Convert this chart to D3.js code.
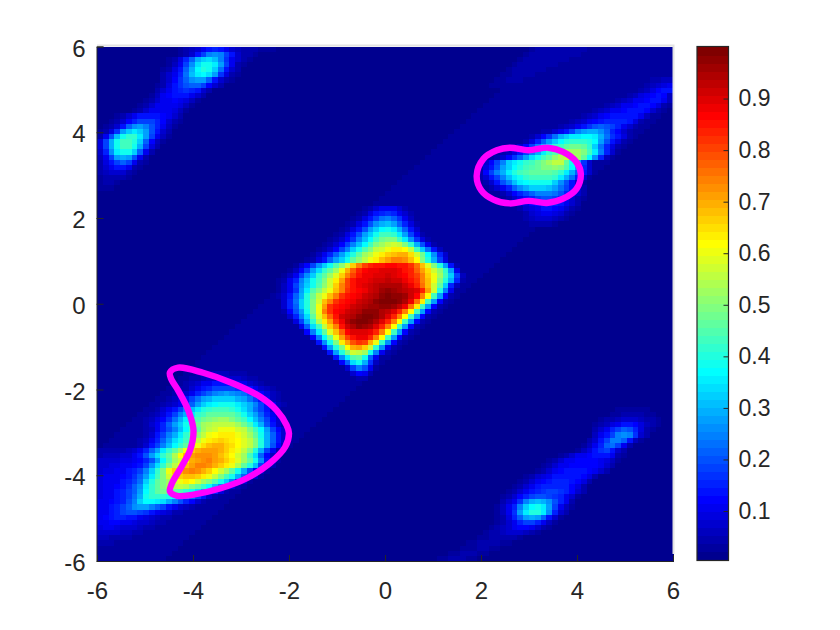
<!DOCTYPE html>
<html>
<head>
<meta charset="utf-8">
<script src="https://cdn.jsdelivr.net/npm/d3@7"></script>
<style>
body{margin:0;background:#fff;}
text{font-family:"Liberation Sans",Arial,sans-serif;}
</style>
</head>
<body>
<div id="chart"></div>
<script>
// heat values are percent of full scale
// each block: first row, first column of every row, then the row values
const xTicks=[-6,-4,-2,0,2,4,6];
const yTicks=[-6,-4,-2,0,2,4,6];
const barTicks=[0.1,0.2,0.3,0.4,0.5,0.6,0.7,0.8,0.9];
const barRange=[0.005,1];
const floorPct=0.5;
const bandPct=3;

// faint diagonal band, first and last column per row
const bandStart=[78,77,76,75,74,73,72,71,70,69,68,67,66,65,64,63,62,61,60,59,58,57,56,55,54,53,52,51,50,49,48,47,46,45,44,43,42,41,40,39,38,37,36,35,34,33,32,31,30,29,28,27,26,25,24,23,22,21,20,19,18,17,16,15,14,13,12,11,10,9,8,7,6,5,4,3,2,1,0,0,0,0,0,0,0,0,0,0,0,0,0,0,0,0,0,0,0,0,0,0];
const bandEnd=[99,99,99,99,99,99,99,99,99,99,99,99,98,97,96,95,94,93,92,91,90,89,88,87,86,85,84,83,82,81,80,79,78,77,76,75,74,73,72,71,70,69,68,67,66,65,64,63,62,61,60,59,58,57,56,55,54,53,52,51,50,49,48,47,46,45,44,43,42,41,40,39,38,37,36,35,34,33,32,31,30,29,28,27,26,25,24,23,22,21,20,19,18,17,16,15,14,13,12,11];

const centreFirstRow=31;
const centreStart=[46,45,44,43,42,41,40,39,38,37,36,34,33,32,31,31,31,31,31,31,32,32,33,34,35,36,37,38,39,40,42,43,43,44];
const centreValues=[
[3,5,8,10,11,10,7,4],
[3,5,9,13,16,17,15,11,7,4],
[3,5,9,14,19,23,24,22,17,11,6,3],
[3,5,9,14,20,26,30,31,28,22,15,9,4],
[3,5,9,14,20,27,33,37,38,35,29,21,13,7,3],
[3,5,9,14,20,27,33,39,43,44,41,35,27,18,10,5,2],
[3,5,8,12,17,24,31,37,44,48,50,49,44,36,26,17,9,4],
[3,5,8,12,18,24,31,37,44,49,53,56,57,56,50,41,30,20,11,5,3],
[3,5,8,12,19,25,32,38,45,50,55,58,61,63,64,62,55,44,33,23,13,6,3],
[3,6,10,15,22,28,34,40,47,52,56,60,63,66,68,69,69,65,58,48,37,26,15,8,3],
[3,5,9,14,21,27,33,39,46,51,56,60,64,68,72,74,75,73,68,62,50,40,29,18,9,3],
[3,7,12,19,26,33,39,45,51,58,66,74,80,83,85,86,87,87,86,85,82,76,68,59,50,40,28,14,5],
[3,6,12,19,27,34,41,46,53,60,69,77,84,87,88,89,90,90,90,88,86,83,78,72,65,58,51,42,28,11,3],
[3,6,11,18,26,33,41,46,52,59,66,74,81,86,88,89,90,90,91,90,89,87,84,80,74,67,60,52,43,32,18,6],
[3,5,10,16,24,31,38,44,50,57,64,72,80,85,88,89,90,91,92,93,92,91,89,86,82,75,68,60,50,40,30,15,4],
[3,6,11,18,26,33,39,45,51,58,66,74,81,85,88,90,92,93,94,95,95,94,91,88,83,76,68,58,46,32,16,6,2],
[2,6,10,17,27,35,45,50,55,61,68,75,82,85,87,89,91,93,96,97,96,95,93,92,90,84,72,58,40,24,10,3],
[4,7,13,22,30,40,48,55,61,68,75,82,85,87,89,91,93,95,97,99,98,97,96,92,87,74,62,43,27,12,4],
[3,8,15,23,32,40,50,58,68,75,82,85,87,89,91,93,95,97,99,100,99,97,94,89,76,63,44,28,12,4],
[3,8,15,22,32,40,49,61,72,82,85,87,89,91,93,95,96,96,97,97,96,93,88,76,64,44,28,12,4],
[5,12,20,27,38,49,60,74,82,87,89,91,93,95,97,98,97,95,93,90,84,74,62,44,28,12,4],
[3,7,15,24,34,47,59,68,78,85,91,93,95,97,99,99,97,94,90,84,74,62,44,28,12,4],
[3,9,18,30,41,54,63,71,82,89,95,97,99,100,98,94,90,84,74,62,44,28,12,4],
[3,10,22,34,44,56,66,74,85,91,95,97,96,94,90,84,74,62,44,28,12,4],
[3,12,24,36,46,59,68,78,87,90,90,90,88,84,74,62,44,28,12,4],
[3,12,25,37,48,61,71,80,86,88,88,84,75,62,44,28,12,4],
[3,13,26,39,50,63,72,79,82,80,70,60,42,26,12,4],
[3,14,27,40,50,62,70,71,66,57,41,26,11,4],
[3,14,27,40,49,57,56,52,39,25,11,4],
[3,14,26,36,45,46,38,21,10,3],
[12,22,34,38,30,17,6],
[8,18,24,20,10,3],
[3,8,12,10,5],
[3,5,4]
];

const lowerFirstRow=63;
const lowerStart=[15,15,14,13,13,11,10,9,8,8,7,8,7,6,5,0,0,0,0,0,0,0,0,0,0,0,0,0,0,0,0,0,0,0,0];
const lowerValues=[
[2,3,4,5,5,6,6,6,5,5,4,3,3],
[3,4,5,6,7,8,8,8,8,7,6,5,4,3],
[3,4,6,8,10,11,13,13,13,12,11,10,8,6,5,3],
[3,4,5,8,11,14,16,18,19,19,18,17,15,13,10,8,6,4],
[4,5,8,11,15,19,22,25,26,27,26,25,23,20,16,12,9,6,4],
[3,4,6,9,13,18,23,27,30,32,33,33,32,30,27,23,18,14,10,6,4],
[3,4,6,8,11,16,21,27,32,35,37,38,38,38,36,33,29,24,19,14,10,6,4],
[3,5,7,10,14,19,25,31,36,40,42,43,43,43,41,38,34,29,23,18,13,8,5],
[3,4,6,9,13,18,24,30,36,41,44,46,47,47,47,46,43,39,33,28,22,16,10,6,3],
[4,6,9,12,17,23,29,35,41,45,48,50,51,52,52,50,47,43,37,31,25,18,12,7,4],
[3,5,8,11,16,21,27,33,39,44,48,52,54,55,56,56,55,52,48,43,36,29,20,13,8,4],
[4,6,10,15,20,25,31,37,43,47,52,56,58,60,60,60,58,55,50,44,37,28,19,12,7,3],
[3,5,8,13,18,24,30,36,41,46,51,56,60,62,63,63,63,61,58,53,47,39,30,21,13,7,3],
[3,4,6,11,16,22,28,34,39,44,49,55,60,64,65,66,65,64,62,59,55,49,40,30,21,13,7,3],
[2,3,5,8,13,19,25,31,37,42,47,54,60,65,68,69,69,67,65,62,59,55,49,40,30,20,12,6,3],
[4,4,5,5,5,6,8,11,16,22,28,35,41,46,53,60,66,70,71,71,71,69,66,63,60,55,49,40,30,19,11,5,2],
[5,6,6,6,7,8,10,14,20,27,34,41,47,54,62,68,72,73,73,73,71,68,65,62,58,52,44,34,22,12,6,2],
[7,7,8,8,9,9,10,12,15,20,28,37,45,52,58,64,69,72,73,74,72,69,66,63,59,52,46,38,26,14,7,3],
[8,8,9,9,10,11,12,14,19,26,34,42,50,56,62,68,72,74,75,73,70,66,63,60,54,47,40,31,19,9,4],
[8,9,9,10,11,13,15,18,24,33,42,50,60,66,70,73,74,73,70,66,62,58,52,46,38,30,20,12,6,3],
[9,10,10,11,12,14,17,21,28,36,44,50,58,63,67,68,68,67,64,60,55,50,44,38,30,22,13,7,3],
[9,10,10,11,13,15,19,23,33,40,46,49,52,57,61,63,62,57,52,49,45,39,32,24,14,8,3],
[9,10,11,12,14,17,21,26,35,42,47,50,52,54,56,54,50,46,42,37,31,24,16,9,4,2],
[9,10,11,13,15,18,22,28,37,42,46,48,48,47,45,42,38,34,28,22,15,9,5,3],
[9,10,11,13,15,18,23,30,38,41,42,42,40,37,33,28,23,18,13,8,5,3],
[10,11,12,14,16,20,25,32,37,37,36,34,30,25,20,16,12,8,5,3],
[10,11,13,15,18,22,26,27,27,25,22,18,14,11,8,6,4,3],
[10,11,14,16,19,20,20,19,17,14,11,9,7,5,4,3],
[10,12,14,15,15,14,13,11,9,8,6,5,4,3],
[10,11,12,12,11,10,9,8,7,6,5,4,3],
[9,10,10,9,8,8,7,6,5,4,3],
[8,8,8,7,6,6,5,4,3],
[6,6,5,5,4,4,3],
[4,4,4,3,3],
[3,3,3]
];

const faintFirstRow=0;
const faintStart=[75,74,73,72,71,70,69,68];
const faintValues=[
[3,4,4,5,5,5,5,4,4,4,3,3],
[3,4,5,5,5,5,5,5,4,4,3,3],
[3,4,5,5,5,5,5,4,4,3],
[3,4,4,5,5,5,4,4,3],
[3,4,4,5,5,4,4,3,3],
[3,3,4,4,4,4,3,3],
[3,3,4,4,4,3,3,3],
[3,3,3,3,3,3]
];

const upperFirstRow=6;
const upperStart=[95,94,93,91,89,87,85,83,81,79,76,74,73,71,69,68,65,65,65,66,67,68,70,71,72,72,73,73,74];
const upperValues=[
[3,4,5,6,6],
[3,4,6,8,9,10],
[3,4,6,9,12,13,13],
[3,4,6,9,11,12,13,12,6],
[3,4,6,8,10,11,12,13,13,11,6],
[3,4,6,8,10,11,12,13,13,12,9,5],
[3,4,6,8,10,11,12,13,14,14,12,8,4],
[3,4,6,8,10,12,13,14,14,14,13,10,6,3],
[3,4,6,8,10,12,14,15,16,16,15,13,9,5,3],
[3,4,6,8,11,14,17,20,21,20,18,15,11,7,4],
[3,4,5,7,10,14,19,24,28,30,30,26,21,16,12,8,4],
[3,5,8,12,17,23,29,33,35,36,37,37,36,30,23,17,13,9,4],
[3,5,9,15,21,27,33,37,40,41,42,42,40,37,28,20,14,9,4],
[3,5,8,12,18,24,31,36,41,44,47,48,48,46,41,32,23,16,9,4],
[3,4,6,9,13,18,24,30,36,41,45,49,52,53,53,50,44,35,25,15,7,3],
[3,5,8,12,17,22,28,34,39,43,47,51,54,56,56,53,47,37,26,15,6],
[3,5,8,12,18,25,32,36,38,41,44,46,50,53,55,55,47,38,28,17,8,3],
[3,5,9,14,20,27,33,37,40,43,45,47,49,50,51,50,45,37,27,16,7,3],
[3,5,12,18,24,30,36,40,43,45,46,47,47,47,45,41,36,30,22,14,7,3],
[4,8,13,19,25,31,35,38,41,43,44,44,44,41,36,30,23,15,8,3],
[4,8,13,20,25,31,35,37,38,39,39,38,33,26,20,14,8,3],
[4,7,11,16,21,26,30,32,33,33,31,28,23,18,13,8,4],
[4,8,12,16,19,22,24,25,25,23,20,16,11,7,4],
[4,7,10,13,16,18,20,20,18,15,11,8,5,3],
[4,7,9,12,14,16,16,15,13,10,7,4],
[3,5,7,9,11,13,13,12,10,7,5,3],
[3,5,7,9,10,10,9,7,5,3],
[3,4,6,7,7,7,6,4,3],
[3,4,5,5,4,3]
];

const cornerFirstRow=0;
const cornerStart=[14,14,12,12,11,11,11,10,10,9,8,7,6,3,2,1,0,0,0,0,0,0,0,0,0,0,0,0];
const cornerValues=[
[3,4,6,8,11,14,16,14,11,8,6,5,4,4,3,3,3],
[3,5,8,13,19,24,26,24,19,13,8,5,4,3],
[3,5,9,15,22,29,33,34,31,25,17,11,7,4,3],
[3,6,11,18,26,34,38,39,35,27,18,10,5,3],
[3,5,9,14,21,30,37,40,39,33,23,13,7,4],
[4,7,11,16,23,31,36,37,34,27,17,9,4,3],
[4,8,12,17,22,26,28,27,22,14,8,4,3],
[3,5,9,13,17,20,22,21,18,12,7,4],
[4,7,11,14,16,17,16,13,8,4],
[3,6,10,12,13,14,13,11,7,4],
[3,5,8,10,11,12,11,9,6,3],
[3,5,8,10,11,11,10,9,6,3],
[3,5,8,10,11,11,11,9,6,3],
[3,5,8,11,13,14,14,14,12,10,7,4],
[3,5,8,12,16,19,19,18,15,12,8,5,3],
[3,5,8,14,22,26,27,25,20,15,10,6,3],
[3,5,9,17,27,33,35,33,27,20,14,8,4],
[5,10,20,31,38,42,41,36,27,19,11,6,3],
[9,18,30,39,43,44,40,32,22,12,6,3],
[9,18,30,39,43,43,39,30,19,9,4],
[8,15,26,35,39,38,32,22,11,5],
[6,11,19,27,29,27,20,11,5],
[5,9,14,19,21,18,11,5,3],
[4,7,10,13,14,10,5,3],
[4,6,7,8,7,4,3],
[3,5,5,5,4,3],
[3,4,4,3],
[3,3,3]
];

const streakFirstRow=70;
const streakStart=[90,89,87,86,86,86,85,84,83,80,78,77,76,74,73,72,71,70,70,69,69,69,69,68,67,66,64,63,61,59];
const streakValues=[
[3,3,3,3,3,3],
[3,3,4,4,4,4,3,3],
[3,4,5,6,7,7,7,6,5,4,3],
[3,4,6,9,11,13,13,12,9,6,4,3],
[4,7,11,15,19,21,20,15,9,5,3],
[6,10,14,19,24,26,24,17,8,4],
[4,8,13,19,25,25,22,14,6,3],
[3,6,10,15,22,23,18,10,4],
[3,6,9,13,17,18,14,8,4],
[3,5,8,10,11,12,13,13,13,10,5,3],
[3,5,8,10,11,12,12,12,12,11,9,6,3],
[3,5,8,10,11,12,12,12,12,12,11,8,4],
[3,5,8,10,12,13,13,13,13,12,11,8,4],
[3,4,7,9,11,13,14,14,14,13,12,9,5],
[3,4,7,10,12,14,15,15,15,14,12,9,5],
[3,4,8,11,13,15,16,16,16,15,12,9,5],
[3,5,8,11,13,15,17,18,18,17,15,12,8,4],
[3,5,8,12,15,18,20,20,19,17,15,11,7,3],
[4,7,11,17,24,29,31,30,26,20,15,10,5],
[3,6,10,16,25,33,37,38,36,28,18,11,6,3],
[3,6,10,17,27,36,40,40,36,26,16,8,4],
[3,5,9,15,22,28,30,28,22,14,7,3],
[3,5,8,11,15,18,18,15,10,6,3],
[3,4,6,8,10,12,12,10,7,4,3],
[3,4,5,6,7,8,8,6,4,3],
[3,3,4,5,5,5,4,3],
[3,3,4,4,4,4,3,3],
[3,3,3,4,4,3,3],
[3,3,4,4,4,3,3],
[3,3,4,4,4,3,3]
];

// magenta contours in axis units
const crescentX=[-4.48,-4.31,-3.79,-3.16,-2.60,-2.26,-2.05,-2.00,-2.08,-2.40,-2.88,-3.44,-3.99,-4.33,-4.48,-4.44,-4.24,-4.06,-3.99,-4.10,-4.31,-4.46];
const crescentY=[-1.60,-1.49,-1.61,-1.86,-2.17,-2.48,-2.83,-3.02,-3.34,-3.72,-4.07,-4.31,-4.45,-4.48,-4.38,-4.19,-3.80,-3.41,-2.95,-2.48,-2.02,-1.74];
const peanutX=[1.91,2.05,2.33,2.60,2.99,3.40,3.71,3.99,4.08,3.99,3.71,3.37,2.99,2.60,2.26,2.01];
const peanutY=[2.99,3.38,3.58,3.64,3.58,3.64,3.54,3.30,3.03,2.68,2.45,2.35,2.40,2.34,2.43,2.64];

const W=840,H=630;
const plot={l:97,r:673,t:46.5,b:561};
const bar={l:697,r:728.5,t:47,b:560};
const inkColor="#262626";

// matlab jet, 64 levels
const jet=[];
(function(){
  const m=64,n=16;
  const u=[];
  for(let i=1;i<=n;i++)u.push(i/n);
  for(let i=0;i<n-1;i++)u.push(1);
  for(let i=n;i>=1;i--)u.push(i/n);
  const rgb=d3.range(m).map(()=>[0,0,0]);
  u.forEach((v,k)=>{
    const g=8+k+1;
    if(g+n<=m)rgb[g+n-1][0]=v;
    if(g<=m)rgb[g-1][1]=v;
    if(g-n>=1)rgb[g-n-1][2]=v;
  });
  rgb.forEach(c=>jet.push(d3.rgb(c[0]*255,c[1]*255,c[2]*255).formatHex()));
})();
const colorScale=d3.scaleQuantize().domain(barRange).range(jet);

// fill the 100x100 grid
const grid=d3.range(100).map(()=>d3.range(100).map(()=>floorPct));
bandStart.forEach((s,r)=>{
  for(let c=s;c<=bandEnd[r];c++)grid[r][c]=bandPct;
});
function addBlock(firstRow,starts,rows){
  rows.forEach((vals,i)=>{
    vals.forEach((v,j)=>{
      const r=firstRow+i,c=starts[i]+j;
      if(c<100&&r<100)grid[r][c]=Math.max(grid[r][c],v);
    });
  });
}
addBlock(centreFirstRow,centreStart,centreValues);
addBlock(lowerFirstRow,lowerStart,lowerValues);
addBlock(faintFirstRow,faintStart,faintValues);
addBlock(upperFirstRow,upperStart,upperValues);
addBlock(cornerFirstRow,cornerStart,cornerValues);
addBlock(streakFirstRow,streakStart,streakValues);

const cells=[];
grid.forEach((row,r)=>row.forEach((v,c)=>cells.push({r,c,v})));

const svg=d3.select("#chart").append("svg").attr("width",W).attr("height",H);

const xBand=d3.scaleBand().domain(d3.range(100)).range([plot.l,plot.r]);
const yBand=d3.scaleBand().domain(d3.range(100)).range([plot.t,plot.b]);
const xScale=d3.scaleLinear().domain([-6,6]).range([plot.l,plot.r]);
const yScale=d3.scaleLinear().domain([-6,6]).range([plot.b,plot.t]);

svg.append("g").selectAll("rect")
  .data(cells)
  .join("rect")
  .attr("x",d=>xBand(d.c))
  .attr("y",d=>yBand(d.r))
  .attr("width",xBand.bandwidth()+0.5)
  .attr("height",yBand.bandwidth()+0.5)
  .attr("shape-rendering","crispEdges")
  .attr("fill",d=>colorScale(d.v/100));

// pale box on the top and right
svg.append("path")
  .attr("d",`M${plot.l},45.5H${plot.r+0.5}V${plot.b-7}`)
  .attr("fill","none")
  .attr("stroke","#e3e3e3")
  .attr("stroke-width",2);

const xAxis=d3.axisBottom(xScale).tickValues(xTicks).tickSize(-6).tickPadding(21).tickFormat(d3.format("d"));
const yAxis=d3.axisLeft(yScale).tickValues(yTicks).tickSize(-7).tickPadding(11).tickFormat(d3.format("d"));
const gx=svg.append("g").attr("transform",`translate(0,${plot.b})`).call(xAxis);
const gy=svg.append("g").attr("transform",`translate(${plot.l-0.5},0)`).call(yAxis);
[gx,gy].forEach(g=>{
  g.selectAll("text").attr("font-size",24).attr("font-family","Liberation Sans").attr("fill",inkColor);
  g.selectAll("line,path").attr("stroke",inkColor);
});
// minus signs are plain hyphens in the reference
gx.selectAll("text").text(d=>d);
gy.selectAll("text").text(d=>d).attr("dy","0.4em");

// contours
const line=d3.line().x(d=>xScale(d[0])).y(d=>yScale(d[1])).curve(d3.curveCatmullRomClosed.alpha(0.5));
[[crescentX,crescentY],[peanutX,peanutY]].forEach(([xs,ys])=>{
  svg.append("path")
    .attr("d",line(xs.map((x,i)=>[x,ys[i]])))
    .attr("fill","none")
    .attr("stroke","#ff00ff")
    .attr("stroke-width",6.4)
    .attr("stroke-linejoin","round");
});

// colorbar
const barLevels=d3.scaleBand().domain(d3.range(64)).range([bar.b,bar.t]);
svg.append("g").selectAll("rect")
  .data(jet)
  .join("rect")
  .attr("x",bar.l)
  .attr("y",(d,i)=>barLevels(i))
  .attr("width",bar.r-bar.l)
  .attr("height",barLevels.bandwidth()+0.5)
  .attr("shape-rendering","crispEdges")
  .attr("fill",d=>d);
const barScale=d3.scaleLinear().domain(barRange).range([bar.b,bar.t]);
const barAxis=d3.axisRight(barScale).tickValues(barTicks).tickSize(-5).tickPadding(10).tickFormat(d3.format(".1f"));
const gb=svg.append("g").attr("transform",`translate(${bar.r},0)`).call(barAxis);
gb.selectAll("text").attr("font-size",23).attr("font-family","Liberation Sans").attr("fill",inkColor);
gb.selectAll("line").attr("stroke",inkColor);
gb.select("path").remove();
svg.append("rect")
  .attr("x",bar.l).attr("y",bar.t-0.5)
  .attr("width",bar.r-bar.l).attr("height",bar.b-bar.t+1)
  .attr("fill","none").attr("stroke",inkColor).attr("stroke-width",1.2);
</script>
</body>
</html>
